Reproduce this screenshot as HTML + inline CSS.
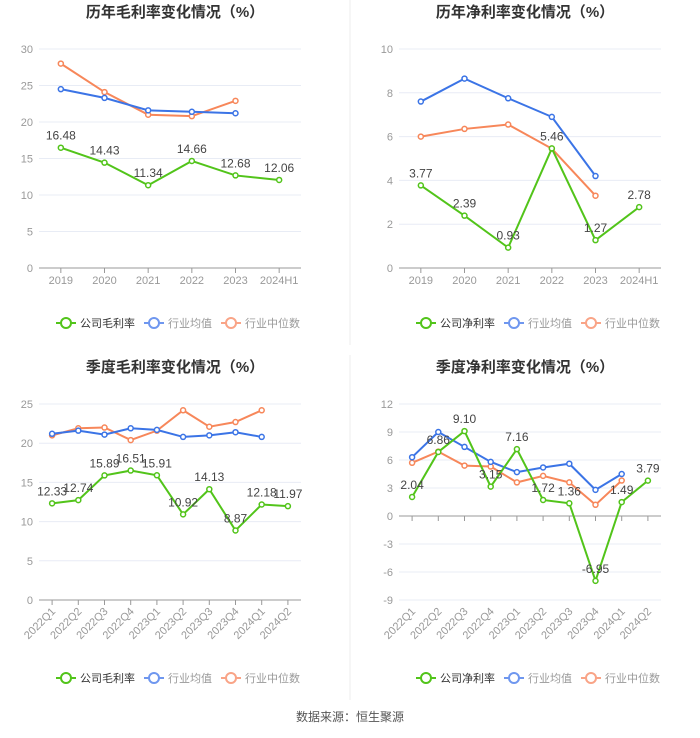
<!DOCTYPE html>
<html><head><meta charset="utf-8"><style>
body{margin:0;background:#fff;width:700px;height:733px;overflow:hidden;font-family:"Liberation Sans","Noto Sans CJK SC",sans-serif}
</style></head><body>
<svg id="s" width="700" height="733" xmlns="http://www.w3.org/2000/svg" font-family="Liberation Sans, Noto Sans CJK SC, sans-serif"></svg>
<script>
const S=document.getElementById('s');let h='';
const G='#52c41a',B='#3b74e6',O='#f7875a';
h+='<line x1="350" y1="0" x2="350" y2="345" stroke="#eee"/><line x1="350" y1="355" x2="350" y2="700" stroke="#eee"/>';
function chart(o){
 const {x0,x1,yT,yB,min,max,step,cats,title,cx,rot,leg,legY,data}=o;
 const Y=v=>yB-(v-min)/(max-min)*(yB-yT);
 const n=cats.length,bw=(x1-x0)/n,X=i=>x0+bw*(i+0.5);
 h+=`<text x="${cx}" y="${o.ty}" font-size="15" font-weight="bold" text-anchor="middle" fill="#333">${title}</text>`;
 for(let v=min;v<=max+1e-9;v+=step){const y=Y(v);
  h+=`<line x1="${x0}" x2="${x1}" y1="${y}" y2="${y}" stroke="${v==0?'#999':'#e8ecf5'}"/>`;
  h+=`<text x="${x0-6}" y="${y+4}" font-size="11" fill="#999" text-anchor="end">${v}</text>`;}
 const z=Y(Math.max(min,0));
 cats.forEach((c,i)=>{h+=`<line x1="${X(i)}" x2="${X(i)}" y1="${z}" y2="${z+5}" stroke="#999"/>`;
  if(rot)h+=`<text transform="translate(${X(i)+4},${yB+12}) rotate(-45)" font-size="11" fill="#999" text-anchor="end">${c}</text>`;
  else h+=`<text x="${X(i)}" y="${yB+16}" font-size="11" fill="#999" text-anchor="middle">${c}</text>`;});
 [[data[2],O],[data[1],B],[data[0],G]].forEach(([d,c],k)=>{
  h+=`<polyline fill="none" stroke="${c}" stroke-width="2" points="${d.map((v,i)=>X(i)+','+Y(v)).join(' ')}"/>`;
  d.forEach((v,i)=>{h+=`<circle cx="${X(i)}" cy="${Y(v)}" r="2.5" fill="#fff" stroke="${c}" stroke-width="1.5"/>`;
   if(k==2)h+=`<text x="${X(i)}" y="${Y(v)-8}" font-size="12" fill="#444" text-anchor="middle">${v.toFixed(2)}</text>`;});});
 let lx=o.lx;[[leg,G],['行业均值','#6f97ef'],['行业中位数','#f9a487']].forEach(([t,c],i)=>{
  h+=`<line x1="${lx}" x2="${lx+20}" y1="${legY}" y2="${legY}" stroke="${c}" stroke-width="2"/><circle cx="${lx+10}" cy="${legY}" r="5" fill="#fff" stroke="${c}" stroke-width="2"/>`;
  h+=`<text x="${lx+24}" y="${legY+4}" font-size="11" fill="${i?'#999':'#333'}">${t}</text>`;lx+=24+t.length*11+9;});
}
const yr=['2019','2020','2021','2022','2023','2024H1'];
const q=['2022Q1','2022Q2','2022Q3','2022Q4','2023Q1','2023Q2','2023Q3','2023Q4','2024Q1','2024Q2'];
chart({x0:39,x1:301,yT:49,yB:268,min:0,max:30,step:5,cats:yr,title:'历年毛利率变化情况（%）',cx:175,ty:17,leg:'公司毛利率',legY:323,lx:56,
 data:[[16.48,14.43,11.34,14.66,12.68,12.06],[24.5,23.3,21.6,21.4,21.2],[28,24.1,21,20.8,22.9]]});
chart({x0:399,x1:661,yT:49,yB:268,min:0,max:10,step:2,cats:yr,title:'历年净利率变化情况（%）',cx:525,ty:17,leg:'公司净利率',legY:323,lx:416,
 data:[[3.77,2.39,0.93,5.46,1.27,2.78],[7.6,8.65,7.75,6.9,4.2],[6.0,6.35,6.55,5.45,3.3]]});
chart({x0:39,x1:301,yT:404,yB:600,min:0,max:25,step:5,cats:q,rot:1,title:'季度毛利率变化情况（%）',cx:175,ty:372,leg:'公司毛利率',legY:678,lx:56,
 data:[[12.33,12.74,15.89,16.51,15.91,10.92,14.13,8.87,12.18,11.97],[21.2,21.6,21.1,21.9,21.7,20.8,21.0,21.4,20.8],[21.0,21.9,22.0,20.4,21.6,24.2,22.1,22.7,24.2]]});
chart({x0:399,x1:661,yT:404,yB:600,min:-9,max:12,step:3,cats:q,rot:1,title:'季度净利率变化情况（%）',cx:525,ty:372,leg:'公司净利率',legY:678,lx:416,
 data:[[2.04,6.86,9.10,3.15,7.16,1.72,1.36,-6.95,1.49,3.79],[6.3,9.0,7.4,5.8,4.7,5.2,5.6,2.8,4.5],[5.7,6.9,5.4,5.3,3.6,4.3,3.6,1.2,3.8]]});
h+='<text x="350" y="721" font-size="12" fill="#555" text-anchor="middle">数据来源：恒生聚源</text>';
S.innerHTML=h;
</script></body></html>
